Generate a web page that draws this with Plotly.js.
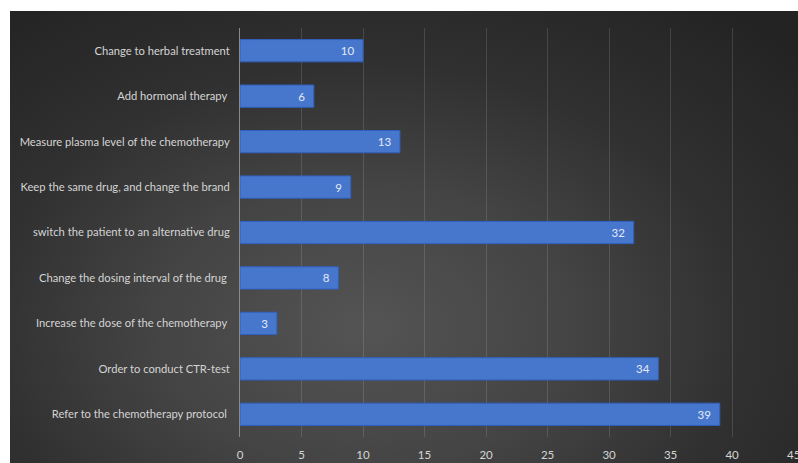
<!DOCTYPE html>
<html>
<head>
<meta charset="utf-8">
<script src="https://cdn.plot.ly/plotly-3.0.1.min.js"></script>
<style>
  html, body { margin: 0; padding: 0; background: #ffffff; }
  #wrap { position: relative; width: 798px; height: 463px; overflow: hidden; }
  #bg { position: absolute; left: 10px; top: 11px; width: 788px; height: 452px;
        background: radial-gradient(ellipse 75% 90% at 45% 70%, #545454 0%, #444444 35%, #303030 65%, #232323 100%); }
  #chart { position: absolute; left: 0; top: 0; width: 798px; height: 463px; }
</style>
</head>
<body>
<div id="wrap">
  <div id="bg"></div>
  <div id="chart"></div>
</div>
<script>
const categories = [
  "Change to herbal treatment",
  "Add hormonal therapy\u00a0",
  "Measure plasma level of the chemotherapy",
  "Keep the same drug, and change the brand",
  "switch the patient to an alternative drug",
  "Change the dosing interval of the drug\u00a0",
  "Increase the dose of the chemotherapy\u00a0",
  "Order to conduct CTR-test",
  "Refer to the chemotherapy protocol\u00a0"
];
const values = [10, 6, 13, 9, 32, 8, 3, 34, 39];
const xTicks = [0, 5, 10, 15, 20, 25, 30, 35, 40, 45];

const FONT = 'Lato, "Open Sans", sans-serif';

const trace = {
  type: 'bar',
  orientation: 'h',
  x: values,
  y: categories,
  width: 0.49,
  marker: { color: '#4777cd', line: { color: '#3060bd', width: 1 } },
  text: values.map(String),
  texttemplate: '%{text}\u00a0\u00a0',
  textposition: 'inside',
  insidetextanchor: 'end',
  textfont: { family: FONT, size: 11.5, color: '#e4eaf5' },
  hoverinfo: 'x+y',
  cliponaxis: false
};

const layout = {
  width: 798,
  height: 463,
  margin: { l: 240, r: 4, t: 28, b: 26, pad: 0 },
  paper_bgcolor: 'rgba(0,0,0,0)',
  plot_bgcolor: 'rgba(0,0,0,0)',
  showlegend: false,
  font: { family: FONT, size: 11.2, color: '#d4d4d4' },
  xaxis: {
    range: [0, 45.03],
    tickvals: xTicks,
    ticktext: xTicks.map(String),
    showgrid: true,
    gridcolor: 'rgba(255,255,255,0.13)',
    gridwidth: 1,
    zeroline: false,
    showline: false,
    ticks: '',
    ticklen: 0,
    ticklabelstandoff: 9,
    ticklabeloverflow: 'allow',
    tickfont: { family: FONT, size: 11.5, color: '#d4d4d4' },
    fixedrange: true
  },
  yaxis: {
    type: 'category',
    autorange: 'reversed',
    showgrid: false,
    zeroline: false,
    showline: true,
    linecolor: '#8a8a8a',
    linewidth: 1,
    ticks: '',
    ticklabelstandoff: 7,
    tickfont: { family: FONT, size: 11.2, color: '#d4d4d4' },
    fixedrange: true
  },
  bargap: 0.51
};

Plotly.newPlot('chart', [trace], layout, { displayModeBar: false, staticPlot: true });
</script>
</body>
</html>
